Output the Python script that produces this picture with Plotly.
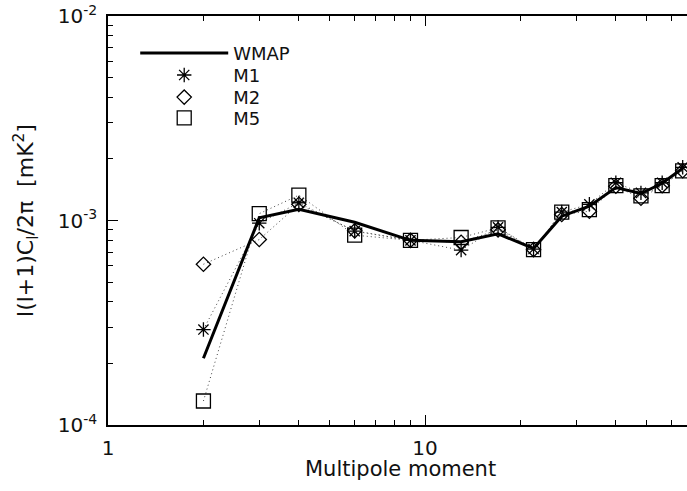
import plotly.graph_objects as go

ell = [2, 3, 4, 6, 9, 13, 17, 22, 27, 33, 40, 48, 56, 65]
wmap = [2.12e-4, 1.03e-3, 1.135e-3, 9.8e-4, 8.0e-4, 7.87e-4, 8.6e-4, 7.3e-4, 1.05e-3, 1.175e-3, 1.45e-3, 1.355e-3, 1.52e-3, 1.80e-3]
m1 = [2.93e-4, 9.7e-4, 1.22e-3, 8.87e-4, 8.0e-4, 7.16e-4, 9.25e-4, 7.25e-4, 1.10e-3, 1.20e-3, 1.53e-3, 1.365e-3, 1.53e-3, 1.82e-3]
m2 = [6.11e-4, 8.07e-4, 1.20e-3, 8.9e-4, 8.0e-4, 7.83e-4, 9.0e-4, 7.2e-4, 1.07e-3, 1.11e-3, 1.47e-3, 1.285e-3, 1.48e-3, 1.75e-3]
m5 = [1.31e-4, 1.08e-3, 1.33e-3, 8.48e-4, 8.0e-4, 8.26e-4, 9.2e-4, 7.2e-4, 1.10e-3, 1.13e-3, 1.48e-3, 1.32e-3, 1.48e-3, 1.75e-3]

x_ticks = [1, 10]
x_ticktext = ["1", "10"]
x_minor = [2, 3, 4, 5, 6, 7, 8, 9, 20, 30, 40, 50, 60]
y_ticks = [1e-4, 1e-3, 1e-2]
y_ticktext = ["10<sup>-4</sup>", "10<sup>-3</sup>", "10<sup>-2</sup>"]
x_title = "Multipole moment"
y_title = "l(l+1)C<sub>l</sub>/2π  [mK<sup>2</sup>]"

FONT = "DejaVu Sans"
fig = go.Figure()

series = [("M1", m1, "asterisk-open", 12), ("M2", m2, "diamond-open", 11), ("M5", m5, "square-open", 14)]
for name, vals, sym, sz in series:
    fig.add_trace(go.Scatter(x=ell, y=vals, mode="lines+markers", showlegend=False,
                             line=dict(color="#444444", width=1, dash="1px,3px"),
                             marker=dict(symbol=sym, size=sz, color="black", line=dict(width=1.3, color="black"))))

fig.add_trace(go.Scatter(x=ell, y=wmap, mode="lines", name="WMAP", legend="legend",
                         line=dict(color="black", width=3)))
legend_ids = ["legend2", "legend3", "legend4"]
for (name, vals, sym, sz), lid in zip(series, legend_ids):
    fig.add_trace(go.Scatter(x=[None], y=[None], mode="markers", name=name, legend=lid,
                             marker=dict(symbol=sym, size=sz, color="black", line=dict(width=1.3, color="black"))))

leg_common = dict(x=0.047, xanchor="left", yanchor="middle", bgcolor="rgba(0,0,0,0)",
                  itemwidth=88, font=dict(size=18), tracegroupgap=0)
leg_y = [0.909, 0.855, 0.801, 0.750]

fig.update_layout(
    width=687, height=491,
    margin=dict(l=108, r=0, t=16, b=66),
    paper_bgcolor="white", plot_bgcolor="white",
    font=dict(family=FONT, size=20, color="#111111"),
    legend=dict(y=leg_y[0], **leg_common),
    legend2=dict(y=leg_y[1], **leg_common),
    legend3=dict(y=leg_y[2], **leg_common),
    legend4=dict(y=leg_y[3], **leg_common),
    showlegend=True,
)
fig.add_annotation(text=x_title, xref="paper", yref="paper", x=0.505, y=-0.108,
                   xanchor="center", yanchor="middle", showarrow=False, font=dict(size=21))
fig.update_xaxes(type="log", range=[0, 1.8265], tickvals=x_ticks, ticktext=x_ticktext,
                 ticks="inside", ticklen=10, tickwidth=1, tickcolor="black",
                 minor=dict(tickvals=x_minor, ticks="inside", ticklen=5, tickcolor="black", tickwidth=1),
                 showline=True, linecolor="black", linewidth=1.5, mirror="ticks",
                 showgrid=False, zeroline=False, ticklabelstandoff=4,
                 tickfont=dict(size=20))
fig.update_yaxes(type="log", range=[-4, -2], tickvals=y_ticks, ticktext=y_ticktext,
                 ticks="inside", ticklen=10, tickwidth=1, tickcolor="black",
                 minor=dict(dtick="D1", ticks="inside", ticklen=5, tickcolor="black", tickwidth=1),
                 showline=True, linecolor="black", linewidth=1.5, mirror=False,
                 showgrid=False, zeroline=False, ticklabelstandoff=5,
                 tickfont=dict(size=20),
                 title=dict(text=y_title, standoff=18, font=dict(size=22)))

fig.write_html("out.html", config={"displayModeBar": False},
               post_script="document.body.style.margin='0';document.body.style.overflow='hidden';")
